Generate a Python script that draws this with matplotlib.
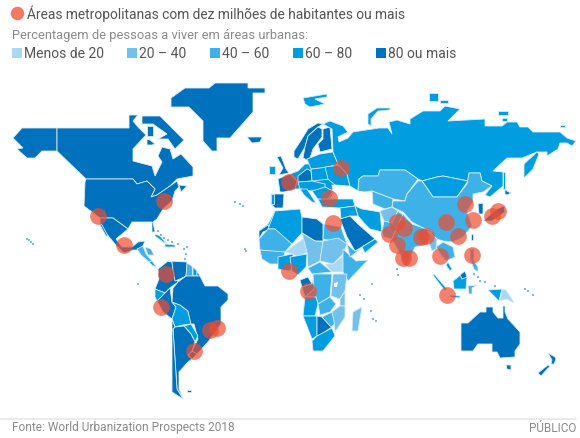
import matplotlib
matplotlib.use("Agg")
import matplotlib.pyplot as plt
from matplotlib.patches import Polygon, Rectangle

plt.rcParams['font.family'] = ['Roboto', 'DejaVu Sans']

C0 = '#a9d8f5'
C20 = '#72c0ec'
C40 = '#3db1e8'
C60 = '#009ee0'
C80 = '#0071bc'

legend_labels = ['Menos de 20', '20 – 40', '40 – 60', '60 – 80', '80 ou mais']
legend_colors = [C0, C20, C40, C60, C80]
legend_x = [12, 127, 210, 293, 376]

# city bubbles, map pixels
city_x = [98, 164, 124, 289, 341, 329, 333, 465, 446, 473, 458, 397, 404, 389, 421, 426, 397,
          498, 492, 440, 472, 403, 409, 166, 161, 210, 217, 194, 289, 308, 447]
city_y = [217, 202, 246, 183, 169, 199, 224, 205, 223, 221, 237, 223, 229, 235, 238, 237, 246,
          212, 217, 257, 256, 259, 259, 275, 308, 331, 329, 352, 272, 292, 296]

# tiny islands
island_x = [27, 29, 31, 33, 138, 235, 240, 243, 245, 246, 158, 161, 164, 168, 172, 178, 184, 186,
            185, 187, 360, 364, 371, 373, 376, 397, 398, 372, 474, 478, 480, 485, 495, 525, 528, 533]
island_y = [240, 241, 243, 245, 285, 203, 205, 207, 250, 252, 232, 236, 239, 241, 243, 245, 250, 255,
            260, 248, 296, 300, 312, 320, 322, 270, 276, 285, 275, 278, 282, 283, 287, 290, 292, 296]

# outlines, map pixels
north_america = [
    (C80, [(13,139),(22,129),(57,129),(57,152),(42,152),(35,159),(27,159),(17,150),(23,149)]),
    (C80, [(57,129),(129,129),(129,116),(138,116),(133,122),(138,128),(146,136),(133,150),(133,162),
           (152,167),(155,177),(162,163),(158,157),(162,148),(170,150),(173,160),(181,155),(193,168),
           (193,177),(177,180),(170,187),(157,196),(151,198),(155,190),(147,182),(137,185),(133,180),
           (86,180),(57,152)]),
    (C80, [(142,117),(160,117),(184,141),(175,150),(168,140),(158,140),(167,135),(153,125),(142,125)]),
    (C80, [(147,127),(153,127),(153,137),(147,137)]),
    (C80, [(147,140),(150,141),(155,145),(152,146),(147,146)]),
    (C80, [(171,99),(185,89),(209,89),(215,84),(248,84),(248,89),(265,89),(265,94),(253,94),(253,113),
           (230,139),(217,139),(217,152),(212,152),(203,142),(203,122),(189,108),(171,108)]),
    (C80, [(247,138),(262,138),(260,143),(252,144)]),
    (C80, [(85,183),(86,180),(133,180),(137,185),(147,182),(155,190),(151,198),(157,196),(170,187),
           (177,182),(179,188),(175,192),(172,202),(163,210),(157,220),(153,223),(155,233),(152,233),
           (152,223),(132,223),(128,230),(113,219),(100,219),(84,207)]),
    (C80, [(179,186),(187,187),(181,193)]),
    (C80, [(100,219),(113,219),(128,230),(116,240),(122,248),(132,248),(138,243),(145,242),(141,251),
           (133,251),(124,254),(115,245),(100,227)]),
    (C80, [(99,224),(102,226),(108,237),(106,237)]),
    (C60, [(155,235),(160,237),(167,245),(163,243),(155,237)]),
    (C60, [(165,245),(175,246),(175,248),(165,248)]),
    (C40, [(137,250),(143,247),(146,255),(152,262),(149,263),(141,256)]),
    (C60, [(149,263),(152,262),(157,269),(152,266)]),
    (C40, [(145,248),(151,250),(154,256),(148,256)]),
]

south_america = [
    (C80, [(159,280),(158,270),(168,262),(172,263),(173,271),(178,283),(170,289),(165,294),(155,290)]),
    (C80, [(168,262),(187,263),(187,268),(186,277),(180,280),(175,282),(173,271),(172,263)]),
    (C40, [(187,264),(192,267),(193,277),(188,279),(186,277)]),
    (C60, [(193,268),(197,272),(197,277),(193,277)]),
    (C80, [(197,272),(200,277),(197,278)]),
    (C60, [(155,290),(165,294),(163,298),(157,302),(155,298)]),
    (C80, [(157,302),(165,294),(170,289),(172,303),(176,308),(172,320),(163,313)]),
    (C60, [(172,303),(180,306),(188,312),(191,325),(183,326),(175,328),(172,320),(176,308)]),
    (C80, [(173,289),(178,283),(186,277),(193,277),(200,277),(205,287),(218,287),(228,295),(228,301),
           (221,308),(221,325),(208,343),(197,355),(192,352),(198,340),(194,325),(191,325),(188,312),
           (180,306),(172,303)]),
    (C60, [(184,327),(191,325),(198,337),(195,343),(191,335)]),
    (C80, [(192,352),(197,355),(192,360),(188,356)]),
    (C80, [(173,330),(175,328),(184,327),(191,335),(195,343),(192,352),(188,356),(192,360),(188,363),
           (179,373),(179,390),(183,400),(177,390),(175,360)]),
    (C80, [(172,320),(175,328),(173,330),(175,360),(177,390),(183,400),(172,393)]),
    (C80, [(187,391),(191,391),(191,393),(187,393)]),
]

africa = [
    (C60, [(259,232),(268,225),(275,212),(283,213),(275,228),(268,230)]),
    (C80, [(259,240),(259,232),(268,226),(270,230),(263,233)]),
    (C60, [(275,212),(300,210),(302,218),(302,234),(292,245),(285,252),(275,230),(268,230)]),
    (C40, [(259,240),(268,230),(275,230),(292,245),(285,253),(278,253),(260,251)]),
    (C80, [(302,218),(317,220),(323,225),(323,242),(315,242),(302,234)]),
    (C40, [(324,225),(341,228),(347,245),(323,240)]),
    (C0,  [(285,253),(307,237),(308,253),(298,258),(292,255)]),
    (C20, [(302,234),(315,242),(323,243),(320,262),(308,268),(307,253)]),
    (C20, [(323,242),(338,239),(347,245),(343,255),(333,265),(320,262)]),
    (C0,  [(325,265),(333,265),(343,257),(343,273),(332,273)]),
    (C40, [(343,250),(356,262),(368,261),(348,282),(343,273)]),
    (C40, [(260,251),(285,253),(282,265),(270,265),(262,260)]),
    (C60, [(278,258),(292,255),(298,262),(290,272),(278,270)]),
    (C60, [(290,258),(307,255),(306,268),(298,276),(292,272)]),
    (C80, [(300,281),(308,278),(312,285),(302,288)]),
    (C60, [(302,288),(312,285),(314,276),(318,280),(314,296),(305,298)]),
    (C40, [(308,269),(320,263),(332,273),(312,275)]),
    (C40, [(313,275),(332,275),(330,298),(318,305),(316,298),(305,298),(314,290)]),
    (C60, [(305,298),(316,298),(318,305),(315,317),(303,317)]),
    (C40, [(318,305),(330,298),(336,305),(330,313),(320,316)]),
    (C20, [(333,275),(347,275),(345,292),(340,300),(331,297)]),
    (C20, [(340,300),(345,292),(345,307),(340,307)]),
    (C60, [(303,317),(317,317),(317,337),(312,340)]),
    (C80, [(317,317),(322,318),(332,328),(320,336),(317,337)]),
    (C40, [(322,318),(332,313),(335,325),(331,328)]),
    (C20, [(332,313),(340,307),(345,307),(345,318),(335,333),(334,322)]),
    (C60, [(312,342),(317,337),(332,329),(335,337),(323,352),(313,352)]),
    (C20, [(353,313),(362,308),(358,332),(352,332)]),
]

europe = [
    (C60, [(278,180),(290,175),(298,172),(305,165),(312,165),(322,157),(333,153),(340,166),(350,187),
           (345,187),(332,186),(333,195),(327,205),(322,205),(318,195),(308,188),(298,190),(295,190)]),
    (C80, [(294,152),(294,158),(298,160),(305,148),(308,137),(318,128),(323,125),(318,124),(308,130),(300,143)]),
    (C80, [(308,137),(318,128),(322,130),(322,138),(313,150),(309,162),(303,159),(305,148)]),
    (C80, [(323,130),(330,128),(332,150),(320,153),(318,145),(323,140)]),
    (C80, [(277,158),(281,157),(286,170),(289,174),(279,176),(283,169)]),
    (C60, [(269,167),(275,167),(275,175),(269,175)]),
    (C80, [(278,180),(290,175),(297,182),(295,190),(284,193),(280,193)]),
    (C80, [(271,195),(284,195),(283,209),(275,209),(271,205)]),
    (C60, [(271,195),(274,195),(274,205),(271,205)]),
    (C80, [(298,177),(307,170),(311,172),(312,182),(298,183)]),
    (C60, [(311,170),(325,168),(330,180),(312,182)]),
    (C60, [(307,160),(320,155),(333,153),(338,165),(328,168),(311,170)]),
    (C60, [(325,168),(340,166),(347,175),(350,187),(335,186),(328,180)]),
    (C60, [(298,183),(312,182),(325,185),(325,192),(312,192),(300,190)]),
    (C60, [(300,190),(307,190),(316,204),(312,203),(304,196)]),
    (C60, [(312,192),(325,188),(333,192),(327,202),(320,203)]),
    (C60, [(303,99),(327,95),(327,98),(315,100),(325,105),(310,108),(305,105)]),
]

asia = [
    (C60, [(332,130),(323,125),(330,122),(343,127),(348,133),(338,138),(339,143),(348,139),(353,133),
           (379,129),(388,129),(392,135),(389,123),(397,121),(400,122),(410,125),(410,120),(423,112),
           (440,112),(445,107),(460,110),(448,122),(485,120),(485,127),(502,127),(507,123),(517,123),
           (520,128),(528,128),(533,133),(560,133),(567,139),(576,142),(572,147),(567,144),(560,144),
           (558,150),(547,157),(547,153),(537,153),(522,159),(507,159),(493,172),(503,173),(503,187),
           (490,198),(485,196),(492,187),(482,182),(480,174),(469,174),(468,182),(443,177),(437,178),
           (422,182),(418,180),(405,171),(380,171),(378,177),(363,177),(359,180),(358,192),(350,187),
           (347,175),(338,165),(333,153)]),
    (C60, [(524,165),(537,153),(539,155),(533,170),(524,179)]),
    (C60, [(503,173),(505,173),(505,190),(503,190)]),
    (C60, [(368,125),(368,115),(377,109),(390,109),(390,111),(378,112),(371,120),(371,127)]),
    (C60, [(429,94),(438,94),(438,102),(429,102)]),
    (C60, [(440,101),(448,101),(448,104),(440,104)]),
    (C60, [(498,112),(508,112),(508,116),(498,116)]),
    (C60, [(502,119),(507,119),(507,122),(502,122)]),
    (C60, [(560,126),(565,126),(565,128),(560,128)]),
    (C40, [(359,180),(363,177),(378,177),(380,171),(405,171),(418,180),(407,195),(405,202),(393,200),
           (372,192),(364,193),(358,192)]),
    (C60, [(422,182),(437,178),(443,177),(468,182),(457,198),(433,198)]),
    (C40, [(418,182),(422,182),(433,198),(457,198),(467,185),(469,174),(480,174),(482,182),(492,187),
           (483,193),(473,195),(473,203),(467,212),(472,227),(463,238),(453,243),(443,242),(437,240),
           (425,230),(412,223),(403,213),(392,208),(393,202),(405,202),(407,195)]),
    (C40, [(372,192),(393,200),(392,208),(385,210),(373,205)]),
    (C20, [(380,212),(392,208),(398,212),(392,224),(384,222)]),
    (C40, [(382,233),(384,222),(392,224),(398,212),(403,216),(397,228),(392,240),(384,238)]),
    (C40, [(392,240),(397,228),(403,215),(412,225),(432,232),(428,245),(415,248),(406,268),(400,255)]),
    (C20, [(428,232),(437,240),(436,250),(432,252),(429,244)]),
    (C40, [(436,248),(443,243),(453,248),(455,258),(446,262),(441,256)]),
    (C60, [(448,263),(452,270),(450,272),(446,266)]),
    (C60, [(355,207),(362,210),(380,213),(382,233),(370,230),(365,225),(358,217)]),
    (C60, [(318,200),(353,200),(355,207),(340,209),(322,208)]),
    (C60, [(340,209),(355,207),(358,217),(350,217),(341,220)]),
    (C80, [(340,220),(350,217),(358,225),(375,240),(362,248),(355,252),(347,238)]),
    (C60, [(362,248),(375,240),(378,243),(365,254)]),
    (C40, [(347,245),(355,252),(362,249),(350,258)]),
    (C80, [(478,205),(483,204),(483,215),(479,215)]),
    (C80, [(505,195),(505,190),(507,192),(511,194),(507,196)]),
    (C80, [(483,222),(497,210),(504,207),(505,213),(492,222)]),
    (C80, [(471,235),(473,235),(473,241),(471,241)]),
    (C40, [(470,250),(474,250),(474,262),(478,268),(478,273),(474,270),(470,260)]),
    (C60, [(432,275),(435,276),(447,290),(445,292)]),
    (C60, [(450,296),(460,297),(460,299),(450,298)]),
    (C60, [(453,282),(463,274),(467,278),(466,290),(454,290)]),
    (C80, [(460,276),(465,272),(467,278),(462,280)]),
    (C40, [(468,287),(477,286),(472,289),(472,295),(469,295)]),
    (C60, [(488,291),(502,290),(499,302)]),
    (C0,  [(502,290),(506,291),(512,300),(514,304),(506,300),(500,302)]),
]

oceania = [
    (C80, [(461,324),(468,324),(480,313),(486,313),(486,308),(493,308),(493,313),(498,319),(503,319),
           (503,307),(505,307),(505,313),(508,320),(520,333),(520,345),(515,352),(515,358),(500,359),
           (497,353),(492,353),(492,345),(478,345),(473,352),(461,352)]),
    (C80, [(506,366),(511,366),(511,371),(507,370)]),
    (C80, [(538,374),(548,366),(550,367),(541,377)]),
    (C80, [(548,354),(555,358),(556,360),(554,365),(551,365),(552,361)]),
]

regions = [north_america, south_america, africa, europe, asia, oceania]

fig = plt.figure(figsize=(5.8, 4.39), dpi=100)
ax = fig.add_axes([0, 0, 1, 1])
ax.set_xlim(0, 580)
ax.set_ylim(439, 0)
ax.axis('off')

for region in regions:
    for color, pts in region:
        ax.add_patch(Polygon(pts, closed=True, facecolor=color, edgecolor='#d8ecf8', linewidth=0.6, zorder=2))

# lake victoria + black sea + caspian cut outs
for pts in [[(334,284),(338,283),(337,288),(334,288)],
            [(332,186),(346,187),(344,196),(335,196)],
            [(358,192),(364,193),(366,207),(362,208)]]:
    ax.add_patch(Polygon(pts, closed=True, facecolor='white', edgecolor='none', zorder=3))

ax.scatter(island_x, island_y, s=1.2, marker='s', color=C20, linewidths=0, zorder=2)
ax.scatter(city_x, city_y, s=145, color='#ef4c30', alpha=0.7, linewidths=0, zorder=4)

# legend
ax.add_patch(Rectangle((16, 0), 20, 1, facecolor='#cccccc', edgecolor='none'))
ax.scatter([17], [14], s=95, color='#f47b63', linewidths=0)
ax.text(27, 14, 'Áreas metropolitanas com dez milhões de habitantes ou mais', fontsize=9.9,
        color='#555555', va='center')
ax.text(12, 35, 'Percentagem de pessoas a viver em áreas urbanas:', fontsize=9.3,
        color='#8a8a8a', va='center')
for x, label, color in zip(legend_x, legend_labels, legend_colors):
    ax.add_patch(Rectangle((x, 49), 10, 10, facecolor=color, edgecolor='none'))
    ax.text(x + 12, 54, label, fontsize=10, color='#555555', va='center')

# footer
ax.plot([0, 576], [420, 420], color='#e6e6e6', linewidth=1.2)
ax.text(12, 428, 'Fonte: World Urbanization Prospects 2018', fontsize=8.6, color='#8a8a8a', va='center')
ax.text(576, 429, 'PÚBLICO', fontsize=8.5, color='#8a8a8a', va='center', ha='right')

fig.savefig('out.png', dpi=100)
